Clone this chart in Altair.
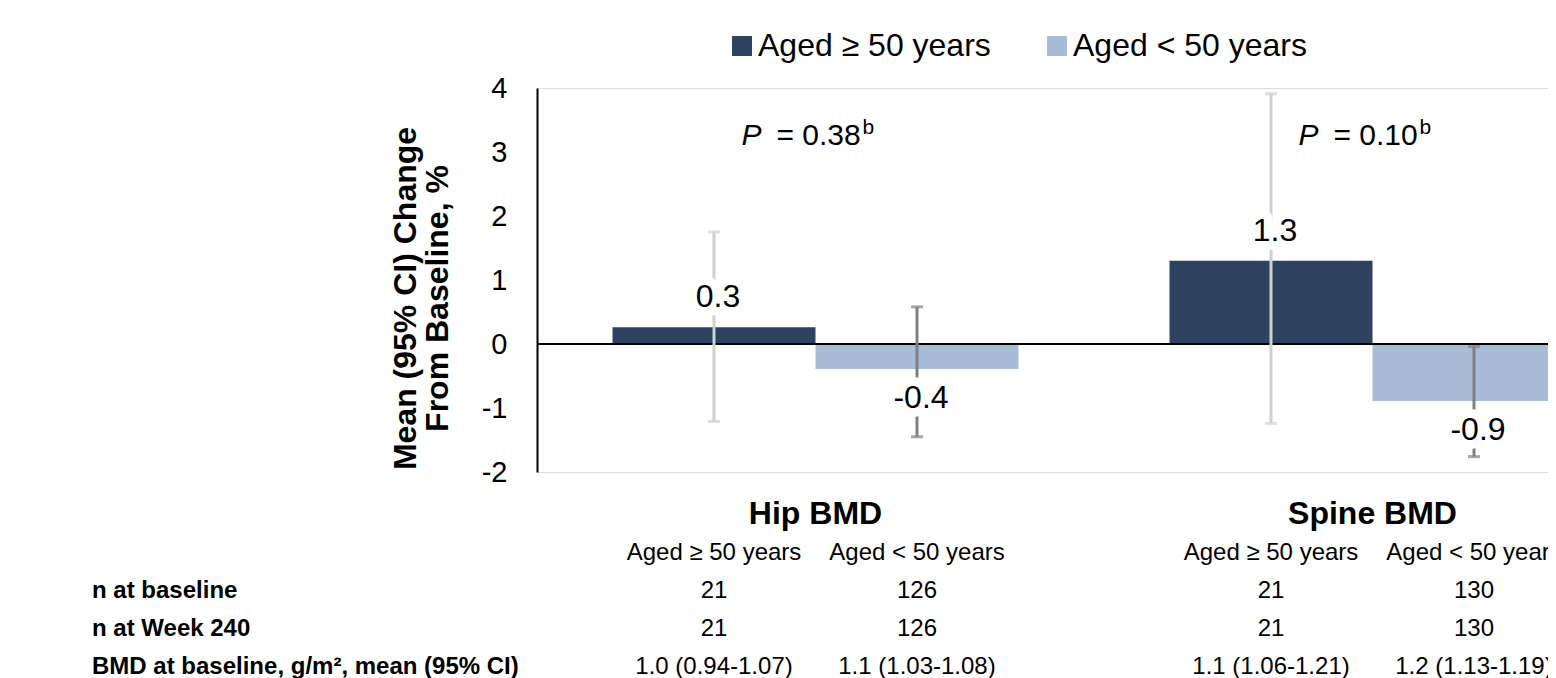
import altair as alt
import pandas as pd

# ---------------- data ----------------
sites = ["Hip BMD", "Spine BMD"]
ages = ["Aged ≥ 50 years", "Aged < 50 years"]

bar_site = ["Hip BMD", "Hip BMD", "Spine BMD", "Spine BMD"]
bar_age = ["Aged ≥ 50 years", "Aged < 50 years", "Aged ≥ 50 years", "Aged < 50 years"]
mean_change = [0.26, -0.39, 1.30, -0.89]
ci_low = [-1.21, -1.45, -1.24, -1.76]
ci_high = [1.75, 0.58, 3.91, -0.04]

p_main = ["= 0.38", "= 0.10"]
p_sup = ["b", "b"]

row_keys = ["header", "n0", "n240", "bmd"]
row_names = ["", "n at baseline", "n at Week 240", "BMD at baseline, g/m², mean (95% CI)"]
n_baseline = ["21", "126", "21", "130"]
n_week240 = ["21", "126", "21", "130"]
bmd_baseline = ["1.0 (0.94-1.07)", "1.1 (1.03-1.08)", "1.1 (1.06-1.21)", "1.2 (1.13-1.19)"]

colors = ["#2E435F", "#A8BBD7"]
err_colors = ["#CDD1D0", "#808080"]

FONT = "Liberation Sans"

bars_df = pd.DataFrame({"site": bar_site, "age": bar_age, "value": mean_change,
                        "lo": ci_low, "hi": ci_high})
p_df = pd.DataFrame({"site": sites, "txt": p_main, "sup": p_sup})

cells = []
for i in range(4):
    cells.append({"site": bar_site[i], "age": bar_age[i], "row": "header", "txt": bar_age[i]})
    cells.append({"site": bar_site[i], "age": bar_age[i], "row": "n0", "txt": n_baseline[i]})
    cells.append({"site": bar_site[i], "age": bar_age[i], "row": "n240", "txt": n_week240[i]})
    cells.append({"site": bar_site[i], "age": bar_age[i], "row": "bmd", "txt": bmd_baseline[i]})
cells_df = pd.DataFrame(cells)
rows_df = pd.DataFrame({"row": row_keys, "name": row_names})

# ---------------- scales ----------------
x_scale = alt.Scale(domain=sites, range=[0, 1114], paddingInner=0, paddingOuter=0)
xo_scale = alt.Scale(domain=ages, paddingInner=0, paddingOuter=0.372)
y_scale = alt.Scale(domain=[-2, 4], nice=False, zero=False)
row_scale = alt.Scale(type="point", domain=row_keys, range=[465, 579], padding=0)
err_scale = alt.Scale(domain=ages, range=err_colors)

X = alt.X("site:N", scale=x_scale, sort=sites,
          axis=alt.Axis(title=None, domain=False, ticks=False, labelAngle=0,
                        labelFontSize=32, labelFontWeight="bold", labelColor="black",
                        labelFont=FONT, labelPadding=26, labelBaseline="top"))
XO = alt.XOffset("age:N", scale=xo_scale, sort=ages)
Y = alt.Y("value:Q", scale=y_scale,
          axis=alt.Axis(values=[-2, -1, 0, 1, 2, 3, 4], grid=False, ticks=False, tickSize=0,
                        domainColor="black", domainWidth=2, labelFontSize=29,
                        labelColor="black", labelFont=FONT, labelPadding=30,
                        labelExpr="toString(datum.value)",
                        title=["Mean (95% CI) Change", "From Baseline, %"],
                        titleFontSize=32, titleFontWeight="bold", titleFont=FONT,
                        titleColor="black", titleAngle=270, titleX=-132, titleY=210,
                        titleAlign="center", titleBaseline="middle", titleLineHeight=32))

base = alt.Chart(bars_df)

bars = base.mark_bar(clip=True).encode(
    x=X, xOffset=XO, y=Y,
    color=alt.Color("age:N", sort=ages, scale=alt.Scale(domain=ages, range=colors),
                    legend=alt.Legend(title=None, orient="none", direction="horizontal",
                                      legendX=189, legendY=-58, symbolType="square",
                                      symbolSize=400, symbolStrokeWidth=0, labelFontSize=32,
                                      labelFont=FONT, labelColor="black", labelOffset=0,
                                      columnPadding=50, labelLimit=500, padding=0)),
)

zero = alt.Chart(pd.DataFrame({"z": [0]})).mark_rule(color="black", strokeWidth=2, clip=True).encode(
    y=alt.Y("z:Q", scale=y_scale)
)

err = base.mark_rule(strokeWidth=3, clip=True).encode(
    x=X, xOffset=XO, y=alt.Y("lo:Q", scale=y_scale), y2="hi:Q",
    stroke=alt.Stroke("age:N", scale=err_scale, legend=None)
)
cap_lo = base.mark_tick(orient="horizontal", size=12, thickness=3, clip=True).encode(
    x=X, xOffset=XO, y=alt.Y("lo:Q", scale=y_scale),
    fill=alt.Fill("age:N", scale=err_scale, legend=None)
)
cap_hi = base.mark_tick(orient="horizontal", size=12, thickness=3, clip=True).encode(
    x=X, xOffset=XO, y=alt.Y("hi:Q", scale=y_scale),
    fill=alt.Fill("age:N", scale=err_scale, legend=None)
)

lab_base = base.transform_calculate(lab="toString(round(datum.value * 10) / 10)")


def labels(cond, dy):
    halo = lab_base.transform_filter(cond).mark_text(
        font=FONT, fontSize=32, baseline="middle", dx=4, dy=dy, fill="white", stroke="white",
        strokeWidth=18, strokeJoin="round"
    ).encode(x=X, xOffset=XO, y=alt.Y("value:Q", scale=y_scale), text="lab:N")
    txt = lab_base.transform_filter(cond).mark_text(
        font=FONT, fontSize=32, baseline="middle", dx=4, dy=dy, color="black"
    ).encode(x=X, xOffset=XO, y=alt.Y("value:Q", scale=y_scale), text="lab:N")
    return halo, txt


pos_halo, pos_txt = labels("datum.value > 0", -30)
neg_halo, neg_txt = labels("datum.value < 0", 29)

pbase = alt.Chart(p_df)
p_italic = pbase.mark_text(font=FONT, fontSize=30, fontStyle="italic", align="left",
                           baseline="alphabetic", dx=-74, color="black").encode(
    x=X, y=alt.value(57), text=alt.value("P"))
p_rest = pbase.mark_text(font=FONT, fontSize=30, align="left", baseline="alphabetic",
                         dx=-39, color="black").encode(
    x=X, y=alt.value(57), text=alt.Text("txt:N"))
p_sup_t = pbase.mark_text(font=FONT, fontSize=21, align="left", baseline="alphabetic",
                          dx=47, color="black").encode(
    x=X, y=alt.value(46), text=alt.Text("sup:N"))

table = alt.Chart(cells_df).mark_text(font=FONT, fontSize=24, baseline="middle",
                                      color="black").encode(
    x=X, xOffset=XO,
    y=alt.Y("row:N", scale=row_scale, axis=None),
    text="txt:N",
)
row_labels = alt.Chart(rows_df).mark_text(font=FONT, fontSize=24, fontWeight="bold",
                                          align="left", baseline="middle",
                                          color="black").encode(
    x=alt.value(-445),
    y=alt.Y("row:N", scale=row_scale, axis=None),
    text="name:N",
)

main = alt.layer(bars, zero, err, cap_lo, cap_hi, pos_halo, neg_halo, pos_txt, neg_txt,
                 p_italic, p_rest, p_sup_t)
tbl = alt.layer(table, row_labels)

chart = alt.layer(main, tbl).resolve_scale(y="independent").properties(
    width=1011, height=384,
    autosize=alt.AutoSizeParams(type="none"),
    padding={"left": 529, "top": 80, "right": 0, "bottom": 206},
).configure_view(stroke=None).configure(background="white")

chart.save("out.html", embed_options={"renderer": "svg", "actions": False})
